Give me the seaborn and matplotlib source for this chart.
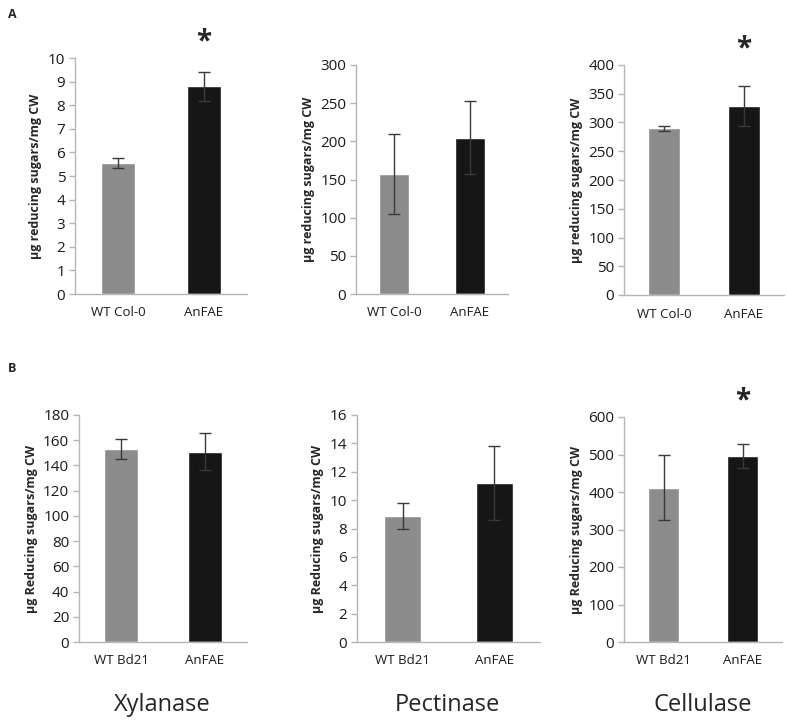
import matplotlib
matplotlib.use("Agg")
import matplotlib.pyplot as plt
import pandas as pd
import seaborn as sns

# data
ENZYMES = ["Xylanase", "Pectinase", "Cellulase"]
GENO_A = ["WT Col-0", "AnFAE"]
GENO_B = ["WT Bd21", "AnFAE"]

MEAN_A = [[5.55, 8.8], [157, 205], [290, 329]]
ERR_A = [[0.22, 0.62], [52, 48], [4.5, 35]]
MEAN_B = [[153, 151], [8.9, 11.2], [412, 497]]
ERR_B = [[8, 14.5], [0.92, 2.6], [86, 32]]

YMAX_A = [10, 300, 400]
YSTEP_A = [1, 50, 50]
YMAX_B = [180, 16, 600]
YSTEP_B = [20, 2, 100]

STAR_A = [True, False, True]
STAR_B = [False, False, True]

YLABEL_A = "µg reducing sugars/mg CW"
YLABEL_B = "µg Reducing sugars/mg CW"

BAR_COLORS = ["#8c8c8c", "#161616"]
SPINE = "#b5b5b5"

W, H = 787, 724

# axes boxes in pixels: left, right, top, bottom
BOX_A = [(75, 247, 58, 294), (356, 508, 65, 294), (624, 784, 65, 295)]
BOX_B = [(79, 247, 415, 642), (357, 540, 415, 642), (624, 782, 417, 642)]

sns.set_theme(style="white")
plt.rcParams["font.family"] = ["Open Sans", "DejaVu Sans"]

fig = plt.figure(figsize=(W / 100, H / 100), dpi=100)


def add_panel(box, genos, means, errs, ymax, ystep, star, ylabel):
    l, r, t, b = box
    ax = fig.add_axes([l / W, 1 - b / H, (r - l) / W, (b - t) / H])
    df = pd.DataFrame({"geno": genos, "val": means})
    sns.barplot(data=df, x="geno", y="val", hue="geno", palette=BAR_COLORS,
                width=0.4, legend=False, errorbar=None, ax=ax)
    ax.errorbar([0, 1], means, yerr=errs, fmt="none", ecolor="#3a3a3a",
                elinewidth=1.0, capsize=4, capthick=1.0)
    ax.set_xlim(-0.5, 1.5)
    ax.set_ylim(0, ymax)
    ticks = [i * ystep for i in range(int(round(ymax / ystep)) + 1)]
    ax.set_yticks(ticks)
    ax.set_yticklabels([f"{v:g}" for v in ticks], fontsize=11, color="#1a1a1a")
    ax.set_xticks([0, 1])
    ax.set_xticklabels(genos, fontsize=9.5, color="#1a1a1a")
    ax.set_xticks([-0.5, 0.5, 1.5], minor=True)
    ax.tick_params(axis="x", which="major", length=0, pad=9)
    ax.tick_params(axis="x", which="minor", length=4, color=SPINE, width=1)
    ax.tick_params(axis="y", length=4, color=SPINE, width=1, left=True, pad=3)
    ax.set_xlabel("")
    ax.set_ylabel(ylabel, fontsize=9, fontweight="bold", labelpad=4)
    for s in ["top", "right"]:
        ax.spines[s].set_visible(False)
    for s in ["left", "bottom"]:
        ax.spines[s].set_color(SPINE)
        ax.spines[s].set_linewidth(1)
    if star:
        ax.annotate("*", xy=(1, 1.005), xycoords=("data", "axes fraction"),
                    ha="center", va="bottom", fontsize=20, fontweight="bold",
                    annotation_clip=False)
    return ax


for i in range(3):
    add_panel(BOX_A[i], GENO_A, MEAN_A[i], ERR_A[i], YMAX_A[i], YSTEP_A[i],
              STAR_A[i], YLABEL_A)
    add_panel(BOX_B[i], GENO_B, MEAN_B[i], ERR_B[i], YMAX_B[i], YSTEP_B[i],
              STAR_B[i], YLABEL_B)

fig.text(8 / W, 1 - 14 / H, "A", fontsize=9, fontweight="bold", va="center")
fig.text(8 / W, 1 - 368 / H, "B", fontsize=9, fontweight="bold", va="center")

for x, name in zip([162, 447, 703], ENZYMES):
    fig.text(x / W, 1 - 705 / H, name, fontsize=17, ha="center", va="center")

fig.savefig("out.png", dpi=100)
